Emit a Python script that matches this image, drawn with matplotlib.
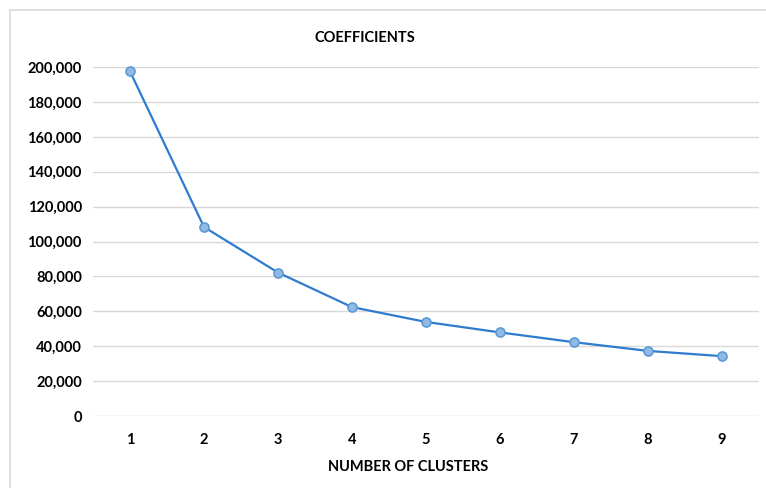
import matplotlib.pyplot as plt
from matplotlib.patches import Rectangle
from matplotlib.ticker import FuncFormatter

# Elbow curve: within-cluster coefficient per number of clusters
clusters = [1, 2, 3, 4, 5, 6, 7, 8, 9]
coefficients = [197500, 108300, 82200, 62400, 53900, 47900, 42300, 37300, 34300]

plt.rcParams['font.family'] = ['Lato', 'DejaVu Sans']

W, H = 766, 488
fig = plt.figure(figsize=(W / 100, H / 100), dpi=100)

# light chart-area frame
fig.patches.append(Rectangle((10 / W, -0.1), 1.2, (H - 10) / H + 0.1,
                             transform=fig.transFigure, fill=False,
                             edgecolor='#D9D9D9', linewidth=1.2))

ax = fig.add_axes([93 / W, (H - 416) / H, (759 - 93) / W, (416 - 67) / H])
ax.plot(clusters, coefficients, color='#2E7BCF', linewidth=1.6,
        marker='o', markersize=6.5, markerfacecolor='#92B8E6',
        markeredgecolor='#5B9BD5', markeredgewidth=1.2, clip_on=False, zorder=3)

ax.set_xlim(0.5, 9.5)
ax.set_ylim(0, 200000)
ax.set_xticks(clusters)
ax.set_yticks(range(0, 200001, 20000))
ax.yaxis.set_major_formatter(FuncFormatter(lambda v, p: f'{int(v):,}'))
ax.grid(axis='y', color='#D9D9D9', linewidth=1)
ax.set_axisbelow(True)
for s in ax.spines.values():
    s.set_visible(False)
ax.tick_params(length=0, labelsize=10.5, colors='black')
ax.tick_params(axis='y', pad=8)
ax.tick_params(axis='x', pad=12)
for lab in ax.get_xticklabels() + ax.get_yticklabels():
    lab.set_fontweight('bold')

fig.text(365 / W, 1 - 38 / H, 'COEFFICIENTS', ha='center', va='center',
         fontsize=10.5, fontweight='bold')
fig.text(408 / W, 1 - 467 / H, 'NUMBER OF CLUSTERS', ha='center', va='center',
         fontsize=10.5, fontweight='bold')

fig.savefig('out.png', dpi=100)
